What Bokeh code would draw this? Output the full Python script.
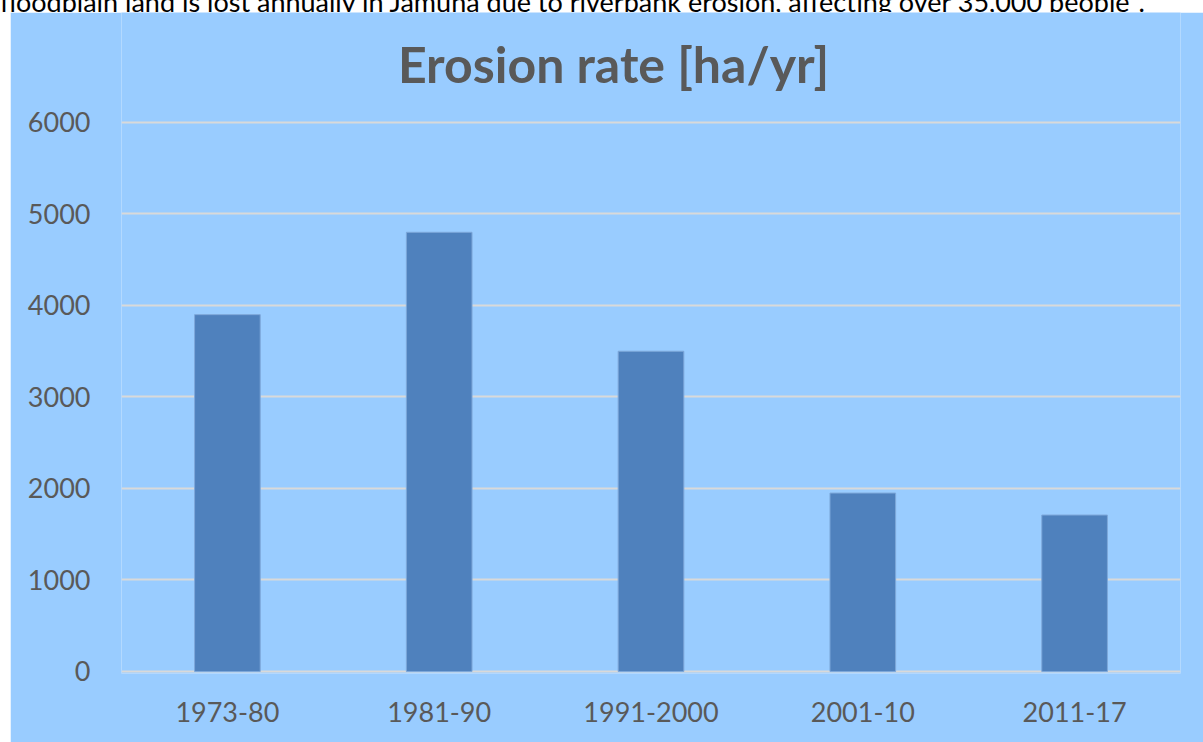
from bokeh.plotting import figure
from bokeh.models import FactorRange, Range1d, FixedTicker, Label, ColumnDataSource, Div, Spacer
from bokeh.layouts import column, row
from bokeh.embed import file_html
from bokeh.resources import INLINE

periods = ["1973-80", "1981-90", "1991-2000", "2001-10", "2011-17"]
erosion = [3900, 4800, 3500, 1950, 1710]
y_ticks = [0, 1000, 2000, 3000, 4000, 5000, 6000]
title_text = "Erosion rate [ha/yr]"
caption_text = "floodplain land is lost annually in Jamuna due to riverbank erosion, affecting over 35,000 people\u00b9."

BG = "#99CCFF"
BAR = "#4F81BD"
TXT = "#595959"
FONT = "Lato"

src = ColumnDataSource(dict(period=periods, rate=erosion))

p = figure(width=1193, height=730, output_backend="svg", toolbar_location=None,
           x_range=FactorRange(*periods, range_padding=0), y_range=Range1d(-22, 7202),
           min_border_left=111, min_border_right=23, min_border_top=0, min_border_bottom=69,
           background_fill_color=BG, border_fill_color=BG, outline_line_color=None)

p.vbar(x="period", top="rate", width=0.31, source=src, fill_color=BAR,
       line_color="#7EA8DA", line_width=1)

p.xgrid.grid_line_color = None
p.ygrid.grid_line_color = "#D9D9D9"
p.ygrid.grid_line_width = 2
p.yaxis.ticker = FixedTicker(ticks=y_ticks)

for ax in (p.xaxis[0], p.yaxis[0]):
    ax.axis_line_color = None
    ax.major_tick_line_color = None
    ax.minor_tick_line_color = None
    ax.major_tick_out = 0
    ax.major_tick_in = 0
    ax.major_label_text_font = FONT
    ax.major_label_text_font_size = "27px"
    ax.major_label_text_color = TXT

p.yaxis.major_label_standoff = 31
p.xaxis.major_label_standoff = 28

p.add_layout(Label(x=492, y=610, x_units="screen", y_units="screen", text=title_text,
                   text_font=FONT, text_font_style="bold", text_font_size="50px",
                   text_color=TXT, text_align="center", text_baseline="alphabetic"))

caption = Div(text=('<div style="margin-top:-17px; font-family:Lato; font-size:27px; '
                    'line-height:26px; color:#000; white-space:nowrap;">' + caption_text + '</div>'),
              width=1203, height=12, styles={"overflow": "hidden", "margin": "0", "padding": "0"})

layout = column(caption, row(Spacer(width=10, height=730), p, spacing=0), spacing=0)

open("out.html", "w").write(file_html(layout, INLINE))
